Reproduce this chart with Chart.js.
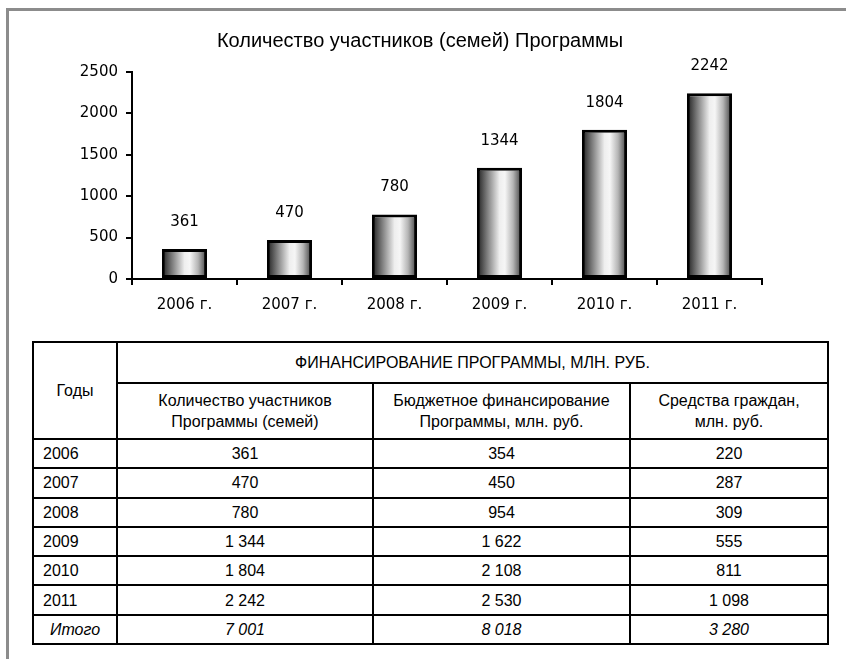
<!DOCTYPE html>
<html>
<head>
<meta charset="utf-8">
<script src="https://cdn.jsdelivr.net/npm/chart.js@4/dist/chart.umd.min.js"></script>
<style>
  body {
    margin: 0;
    width: 846px;
    height: 659px;
    overflow: hidden;
    position: relative;
    background: #fff;
    font-family: "Liberation Sans", Arial, sans-serif;
    color: #000;
  }
  #frame {
    position: absolute;
    left: 6px;
    top: 8px;
    right: 0;
    bottom: 0;
    border-left: 3px solid #8c8c8c;
    border-top: 3px solid #8c8c8c;
  }
  #chartBox {
    position: absolute;
    left: 0;
    top: 0;
    width: 846px;
    height: 330px;
  }
  #finance {
    position: absolute;
    left: 32px;
    top: 341px;
    border-collapse: collapse;
    table-layout: fixed;
    font-size: 16px;
  }
  #finance td {
    border: 2px solid #000;
    text-align: center;
    padding: 0 4px;
    line-height: 21px;
  }
  #finance td.year {
    text-align: left;
    padding-left: 9px;
  }
  #finance tr.total td {
    font-style: italic;
  }
</style>
</head>
<body>
<div id="frame"></div>
<div id="chartBox"><canvas id="familyChart"></canvas></div>
<table id="finance"></table>

<script>
/* global Chart */

var years = ["2006 г.", "2007 г.", "2008 г.", "2009 г.", "2010 г.", "2011 г."];
var tableYears = ["2006", "2007", "2008", "2009", "2010", "2011"];
var participants = [361, 470, 780, 1344, 1804, 2242];
var budget = [354, 450, 954, 1622, 2108, 2530];
var citizens = [220, 287, 309, 555, 811, 1098];
var yMax = 2500;
var yStep = 500;

var barShare = 0.43;
var labelFont = { family: "DejaVu Sans", size: 15 };

// cylinder-like shading across each bar
function barFill(context) {
  var chart = context.chart;
  var x = chart.scales.x;
  if (!x || context.dataIndex === undefined) {
    return "#bbb";
  }
  var center = x.getPixelForValue(context.dataIndex);
  var half = (x.width / years.length) * barShare / 2;
  if (!isFinite(center) || !isFinite(half) || half <= 0) {
    return "#bbb";
  }
  var g = chart.ctx.createLinearGradient(center - half, 0, center + half, 0);
  g.addColorStop(0, "#1c1c1c");
  g.addColorStop(0.22, "#7a7a7a");
  g.addColorStop(0.5, "#eeeeee");
  g.addColorStop(0.62, "#f6f6f6");
  g.addColorStop(0.8, "#b5b5b5");
  g.addColorStop(1, "#3a3a3a");
  return g;
}

var valueLabels = {
  id: "valueLabels",
  afterDatasetsDraw: function (chart) {
    var ctx = chart.ctx;
    var meta = chart.getDatasetMeta(0);
    ctx.save();
    ctx.font = labelFont.size + "px '" + labelFont.family + "'";
    ctx.fillStyle = "#000";
    ctx.textAlign = "center";
    ctx.textBaseline = "middle";
    meta.data.forEach(function (bar, i) {
      ctx.fillText(String(participants[i]), bar.x, bar.y - 27);
    });
    ctx.restore();
  },
};

var familyChart = new Chart(document.getElementById("familyChart").getContext("2d"), {
  type: "bar",
  data: {
    labels: years,
    datasets: [
      {
        data: participants,
        backgroundColor: barFill,
        borderColor: "#000",
        borderWidth: 3,
        borderSkipped: false,
        barPercentage: barShare,
        categoryPercentage: 1,
      },
    ],
  },
  options: {
    responsive: true,
    maintainAspectRatio: false,
    animation: false,
    layout: {
      padding: { left: 78, right: 84, top: 29, bottom: 0 },
    },
    plugins: {
      legend: { display: false },
      tooltip: { enabled: false },
      title: {
        display: true,
        text: "Количество участников (семей) Программы",
        color: "#000",
        font: { family: "Liberation Sans", size: 20, weight: "normal" },
        padding: { top: 0, bottom: 19 },
      },
    },
    scales: {
      x: {
        ticks: { color: "#000", font: labelFont, padding: 11 },
        grid: {
          drawOnChartArea: false,
          offset: true,
          color: "#000",
          tickColor: "#000",
          tickLength: 6,
          lineWidth: 2,
        },
        border: { color: "#000", width: 2 },
        afterFit: function (scale) {
          scale.height = 51;
        },
      },
      y: {
        min: 0,
        max: yMax,
        ticks: {
          stepSize: yStep,
          color: "#000",
          font: labelFont,
          padding: 8,
          callback: function (value) {
            return String(value);
          },
        },
        grid: {
          drawOnChartArea: false,
          color: "#000",
          tickColor: "#000",
          tickLength: 6,
          lineWidth: 2,
        },
        border: { color: "#000", width: 2 },
        afterFit: function (scale) {
          scale.width = 54;
        },
      },
    },
  },
  plugins: [valueLabels],
});

// table under the chart
function fmt(n) {
  var s = String(n);
  if (s.length > 3) {
    s = s.slice(0, s.length - 3) + "\u00a0" + s.slice(s.length - 3);
  }
  return s;
}

function sum(list) {
  return list.reduce(function (a, b) {
    return a + b;
  }, 0);
}

var html = "";
html += '<colgroup><col style="width:84px"><col style="width:256px"><col style="width:257px"><col style="width:198px"></colgroup>';
html += '<tr style="height:41px"><td rowspan="2">Годы</td><td colspan="3">ФИНАНСИРОВАНИЕ ПРОГРАММЫ, МЛН. РУБ.</td></tr>';
html += '<tr style="height:56px"><td>Количество участников<br>Программы (семей)</td>' +
  "<td>Бюджетное финансирование<br>Программы, млн. руб.</td>" +
  "<td>Средства граждан,<br>млн. руб.</td></tr>";
for (var i = 0; i < tableYears.length; i++) {
  html += '<tr style="height:29.3px"><td class="year">' + tableYears[i] + "</td><td>" + fmt(participants[i]) +
    "</td><td>" + fmt(budget[i]) + "</td><td>" + fmt(citizens[i]) + "</td></tr>";
}
html += '<tr class="total" style="height:29.3px"><td>Итого</td><td>' + fmt(sum(participants)) +
  "</td><td>" + fmt(sum(budget)) + "</td><td>" + fmt(sum(citizens)) + "</td></tr>";
document.getElementById("finance").innerHTML = html;
</script>
</body>
</html>
